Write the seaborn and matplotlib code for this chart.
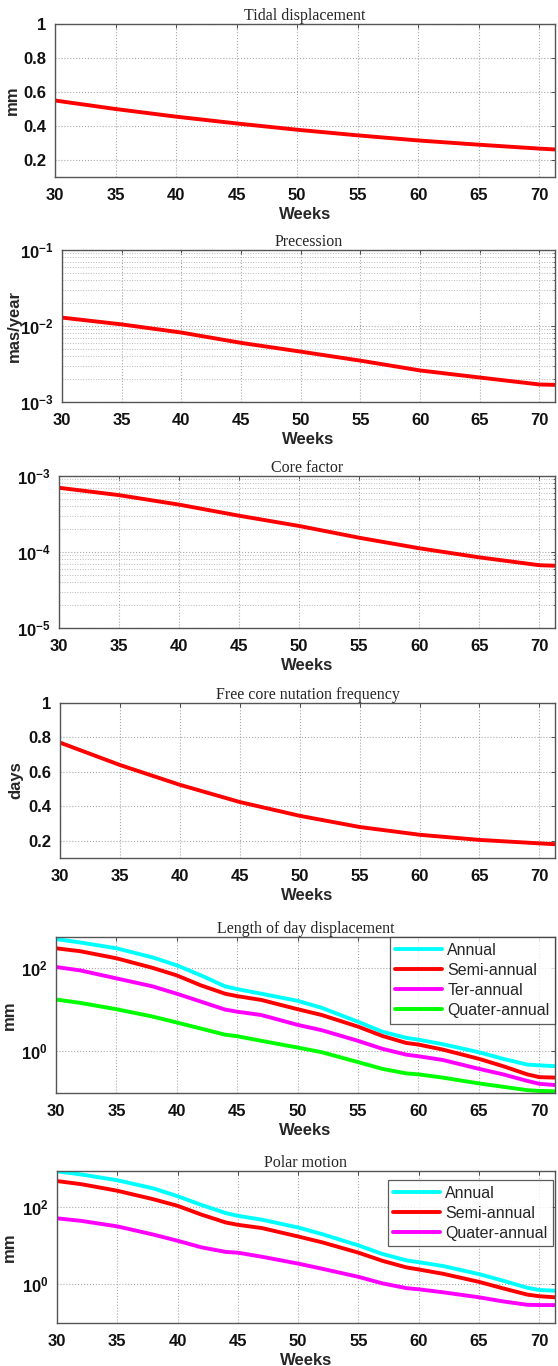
import numpy as np
import pandas as pd
import matplotlib
matplotlib.use('Agg')
import matplotlib.pyplot as plt
import matplotlib.ticker as mticker
import seaborn as sns

sns.set_theme(style="white")
plt.rcParams['font.family'] = ['Liberation Sans', 'DejaVu Sans']
plt.rcParams['mathtext.fontset'] = 'custom'
plt.rcParams['mathtext.rm'] = 'Liberation Sans'
plt.rcParams['mathtext.bf'] = 'Liberation Sans:bold'

# data
weeks = [30, 35, 40, 45, 50, 55, 60, 65, 70, 71.3]
tidal = [0.55, 0.50, 0.455, 0.415, 0.378, 0.345, 0.315, 0.29, 0.267, 0.262]
precession = [0.0129, 0.0105, 0.0082, 0.0060, 0.0046, 0.0035, 0.0026, 0.0021, 0.0017, 0.00168]
core = [7.0e-4, 5.6e-4, 4.2e-4, 3.0e-4, 2.2e-4, 1.54e-4, 1.12e-4, 8.5e-5, 6.7e-5, 6.6e-5]
fcn = [0.77, 0.64, 0.525, 0.425, 0.345, 0.28, 0.235, 0.205, 0.185, 0.18]

weeks_fine = [30, 32, 35, 38, 40, 42, 44, 45, 47, 50, 52, 55, 57, 59, 60, 62, 65, 67, 69, 70, 71.3]
lod_annual = [490, 407, 295, 178, 115, 66, 36, 31, 24, 16.2, 11, 5.1, 2.95, 2.1, 1.9, 1.48, 0.95, 0.66, 0.48, 0.46, 0.44]
lod_semi = [295, 251, 170, 100, 66, 38, 24, 21, 17, 10.2, 7.4, 3.9, 2.34, 1.58, 1.45, 1.1, 0.66, 0.44, 0.28, 0.24, 0.234]
lod_ter = [105, 87, 56, 36, 24, 15.5, 10, 8.9, 7.4, 4.3, 3.2, 1.78, 1.15, 0.83, 0.76, 0.62, 0.38, 0.28, 0.195, 0.166, 0.155]
lod_quater = [17.4, 14.5, 10.2, 6.8, 4.9, 3.5, 2.5, 2.3, 1.78, 1.23, 0.95, 0.55, 0.38, 0.295, 0.28, 0.234, 0.17, 0.141, 0.117, 0.112, 0.11]

pm_annual = [813, 676, 479, 295, 186, 110, 68, 58, 46, 29, 19.5, 10, 6.0, 4.1, 3.7, 2.95, 1.82, 1.23, 0.81, 0.71, 0.68]
pm_semi = [457, 380, 257, 155, 105, 62, 39, 34, 28, 17, 12, 6.5, 4.0, 2.7, 2.4, 1.86, 1.15, 0.78, 0.54, 0.49, 0.46]
pm_quater = [50, 43, 31, 19, 13.2, 8.9, 6.8, 6.5, 5.1, 3.4, 2.5, 1.55, 1.05, 0.79, 0.74, 0.62, 0.46, 0.36, 0.295, 0.29, 0.29]

colors = {'Annual': '#00FFFF', 'Semi-annual': '#FF0000', 'Ter-annual': '#FF00FF',
          'Quater-annual': '#00FF00'}
pm_colors = {'Annual': '#00FFFF', 'Semi-annual': '#FF0000', 'Quater-annual': '#FF00FF'}

W, H = 558, 1366
RIGHT = 555
LW = 2.8
fig = plt.figure(figsize=(W / 100, H / 100), dpi=100)
fig.patch.set_facecolor('white')


def make_ax(left, top, bottom):
    return fig.add_axes([left / W, 1 - bottom / H, (RIGHT - left) / W, (bottom - top) / H])


def style(ax, title, ylabel, left, ylab_x=13, log=False):
    ax.set_xlim(30, 71.3)
    ax.set_xticks(range(30, 71, 5))
    ax.set_title(title, family='Liberation Serif', fontsize=11.5, pad=3)
    ax.set_xlabel('Weeks', fontsize=12, fontweight='bold', labelpad=3)
    ax.set_ylabel(ylabel, fontsize=12, fontweight='bold')
    # label grows leftwards from this x, so shift by about half its height
    ax.yaxis.set_label_coords((ylab_x + 7 - left) / (RIGHT - left), 0.5)
    ax.tick_params(direction='in', top=True, right=True, length=3, width=0.6,
                   colors='#333333', labelsize=12, pad=6)
    ax.tick_params(axis='x', pad=8)
    ax.tick_params(which='minor', direction='in', length=1.5, width=0.5, right=True)
    for lab in ax.get_xticklabels() + ax.get_yticklabels():
        lab.set_fontweight('bold')
        lab.set_color('#111111')
    for sp in ax.spines.values():
        sp.set_color('#555555')
        sp.set_linewidth(1)
    ax.grid(True, which='major', color='#a8a8a8', linestyle=':', linewidth=0.8)
    if log:
        ax.yaxis.set_major_formatter(mticker.FuncFormatter(
            lambda v, p: r'$\mathbf{10^{%d}}$' % round(np.log10(v))))


def log_minor(ax):
    ax.yaxis.set_minor_locator(mticker.LogLocator(base=10, subs=range(2, 10)))
    ax.yaxis.set_minor_formatter(mticker.NullFormatter())
    ax.grid(True, which='minor', axis='y', color='#b8b8b8', linestyle=':', linewidth=0.7)


def add_legend(ax, anchor):
    leg = ax.legend(loc='upper right', bbox_to_anchor=anchor, fontsize=11.5, frameon=True,
                    fancybox=False, edgecolor='#333333', handlelength=2.9,
                    labelspacing=0.32, borderaxespad=0.0, borderpad=0.35,
                    handletextpad=0.35)
    leg.get_frame().set_linewidth(0.9)


# 1 Tidal displacement
ax1 = make_ax(55, 24, 177)
sns.lineplot(x=weeks, y=tidal, ax=ax1, color='red', linewidth=LW)
ax1.set_ylim(0.1, 1)
ax1.set_yticks([0.2, 0.4, 0.6, 0.8, 1])
ax1.set_yticklabels(['0.2', '0.4', '0.6', '0.8', '1'])
style(ax1, 'Tidal displacement', 'mm', left=55, ylab_x=13)

# 2 Precession
ax2 = make_ax(62, 250, 402)
sns.lineplot(x=weeks, y=precession, ax=ax2, color='red', linewidth=LW)
ax2.set_yscale('log')
ax2.set_ylim(1e-3, 1e-1)
ax2.yaxis.set_major_locator(mticker.FixedLocator([1e-3, 1e-2, 1e-1]))
style(ax2, 'Precession', 'mas/year', left=62, ylab_x=15, log=True)
log_minor(ax2)

# 3 Core factor
ax3 = make_ax(59, 476, 628)
sns.lineplot(x=weeks, y=core, ax=ax3, color='red', linewidth=LW)
ax3.set_yscale('log')
ax3.set_ylim(1e-5, 1e-3)
ax3.yaxis.set_major_locator(mticker.FixedLocator([1e-5, 1e-4, 1e-3]))
style(ax3, 'Core factor', '', left=59, log=True)
log_minor(ax3)

# 4 Free core nutation frequency
ax4 = make_ax(60, 703, 858)
sns.lineplot(x=weeks, y=fcn, ax=ax4, color='red', linewidth=LW)
ax4.set_ylim(0.1, 1)
ax4.set_yticks([0.2, 0.4, 0.6, 0.8, 1])
ax4.set_yticklabels(['0.2', '0.4', '0.6', '0.8', '1'])
style(ax4, 'Free core nutation frequency', 'days', left=60, ylab_x=16)

# 5 Length of day displacement
n = len(weeks_fine)
lod = pd.DataFrame({
    'Weeks': weeks_fine * 4,
    'value': lod_annual + lod_semi + lod_ter + lod_quater,
    'series': ['Annual'] * n + ['Semi-annual'] * n + ['Ter-annual'] * n + ['Quater-annual'] * n,
})
ax5 = make_ax(56, 937, 1093)
sns.lineplot(data=lod, x='Weeks', y='value', hue='series', palette=colors, ax=ax5,
             linewidth=LW)
ax5.set_yscale('log')
ax5.set_ylim(0.1, 550)
ax5.yaxis.set_major_locator(mticker.FixedLocator([1, 100]))
ax5.yaxis.set_minor_locator(mticker.NullLocator())
style(ax5, 'Length of day displacement', 'mm', left=56, ylab_x=10, log=True)
add_legend(ax5, (1, 1))

# 6 Polar motion
pm = pd.DataFrame({
    'Weeks': weeks_fine * 3,
    'value': pm_annual + pm_semi + pm_quater,
    'series': ['Annual'] * n + ['Semi-annual'] * n + ['Quater-annual'] * n,
})
ax6 = make_ax(57, 1171, 1323)
sns.lineplot(data=pm, x='Weeks', y='value', hue='series', palette=pm_colors, ax=ax6,
             linewidth=LW)
ax6.set_yscale('log')
ax6.set_ylim(0.1, 830)
ax6.yaxis.set_major_locator(mticker.FixedLocator([1, 100]))
ax6.yaxis.set_minor_locator(mticker.NullLocator())
style(ax6, 'Polar motion', 'mm', left=57, ylab_x=10, log=True)
add_legend(ax6, (1 - 2 / 498, 1 - 9 / 152))

fig.savefig('out.png', dpi=100, facecolor='white')
